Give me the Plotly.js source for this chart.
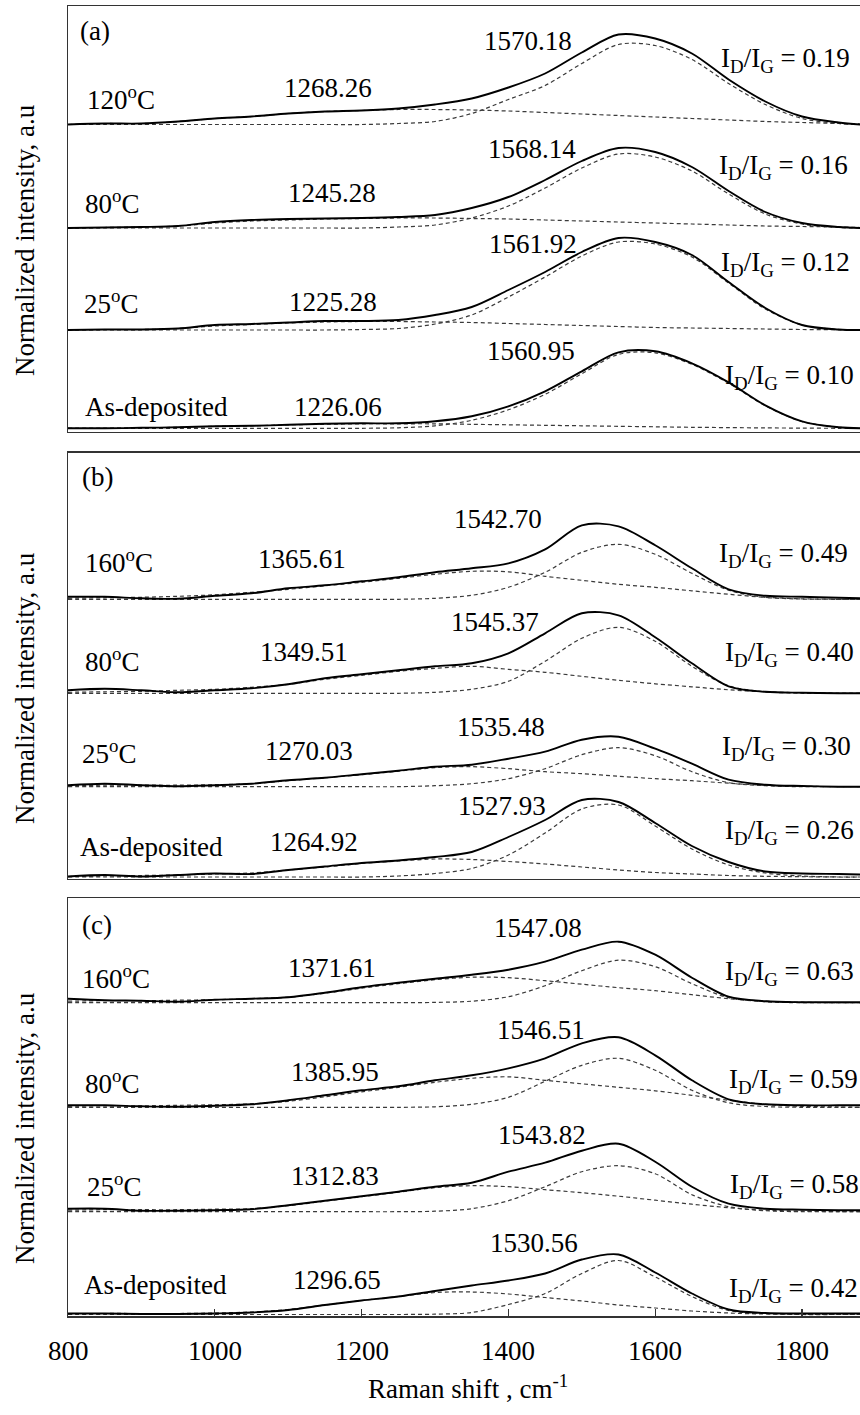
<!DOCTYPE html>
<html><head><meta charset="utf-8">
<script src="https://cdn.plot.ly/plotly-3.0.1.min.js"></script>
<style>
html,body{margin:0;padding:0;background:#fff;}
#chart{width:860px;height:1415px;}
#chart svg text, #chart svg tspan{font-family:"Liberation Serif","Times New Roman",serif !important;}
</style>
</head><body><div id="chart"></div>
<script>
// Raman shift grid (cm-1)
const ramanShift = [800,850,900,950,1000,1050,1100,1150,1200,1250,1300,1350,1400,1450,1500,1550,1600,1650,1700,1750,1800,1850,1880];

// Panel (a): measured spectrum (S), D-band fit, G-band fit
const a120S = [0,1,1,3,6,8,11,13,14,16,20,26,37,51,72,90,86,71,45,23,8,2,0];
const a120D = [0,1,1,3,6,8,11,13,14,15,15,14.5,13.5,12,10.5,9,7.5,6,4.5,3,2,1,0.5];
const a120G = [0,0,0,0,0,0,0,0,0,1,3,11,25,39,61,80,79,65,41,20,6,1,0];
const a80S  = [0,0.5,1,2,6,8,9,9.5,10,11,13,20,31,48,67,80,76,61,37,16,5,1,0];
const a80D  = [0,0.5,1,2,5,7,8,9,9.5,10,10,9.5,9,8,7,6,5,4,3,2,1.5,1,0.5];
const a80G  = [0,0,0,0,0,0,0,0,0,1,3,10,22,40,60,74,71,57,34,14,4,0.5,0];
const a25S  = [0,0.5,0.5,1.5,5,6,7.5,9,9,10,15,23,40,58,78,92,88,75,48,22,5,0.5,0];
const a25D  = [0,0.5,0.5,1.5,4,5.5,7,8,8.5,8.5,8,7.5,6.5,5.5,4.5,3.5,2.5,2,1.5,1,0.5,0.2,0];
const a25G  = [0,0,0,0,0,0,0,0,0.5,1.5,6,15,33,53,74,88,86,73,47,21,5,0.5,0];
const a0S   = [0,0,0.5,1,2,2.5,3.5,4.5,5,5,7,12,22,37,57,76,77,65,46,23,7,1,0];
const a0D   = [0,0,0.5,1,2,2.5,3.5,4,4.5,4.5,4.5,4,3.5,3,2.5,2,1.5,1,0.7,0.4,0.2,0,0];
const a0G   = [0,0,0,0,0,0,0,0,0,0.5,2.5,8,18.5,34,54.5,74,75.5,64,45,22.5,6.8,1,0];

// Panel (b)
const b160S = [2.5,2.5,1,0.5,3.5,6,11,14,18,22,27,31,36,50,74,73,54,31,10,3.5,2.5,1.5,1];
const b160D = [1,1.5,2,3,4.5,7,10,13.5,17,21,25,28,27.5,23,19,15,12,8.5,5,2,0.5,0,0];
const b160G = [0,0,0,0,0,0,0,0,0,0,1,4,12,27,47,55,45,26,9,2,0.3,0,0];
const b80S  = [3,4.5,3,1,3,5,9,15,19,23,27,30,40,60,80,78,56,30,7,1.5,0.5,0,0];
const b80D  = [1,1.5,2,3,4,6,9,14,18,22,25,27,24,21,17,13,9.5,6.5,3.5,1.5,0.5,0,0];
const b80G  = [0,0,0,0,0,0,0,0,0,0,1,4,12,32,55,66,52,27,7.5,1.5,0.3,0,0];
const b25S  = [1.5,3,1.5,0.5,1.5,3,6.5,9,12.5,16,20,22,28,35,47,50,38,23,7,2,0.7,0,0];
const b25D  = [1,1.5,1.5,1.5,2,3,6,9,12,15.5,19,20,18,15,13,10.5,8,6,3.5,1.5,0.5,0,0];
const b25G  = [0,0,0,0,0,0,0,0,0,0,1,3,8,18,32,39,31,15,4,1,0,0,0];
const b0S   = [0.5,2,0.5,2,3.5,3,7,10.5,14,16.5,20,25,40,57,77,75,54,31,15,5.5,3.5,3,2.5];
const b0D   = [0.5,1,1.5,2,3,4,7,10,13.5,16,18,17.5,15.5,13,10,7,4.5,3,1.5,0.7,0.3,0,0];
const b0G   = [0,0,0,0,0,0,0,0,0,1,3.5,8.5,22,44,68,72,51,28,12,4,1,0,0];

// Panel (c)
const c160S = [4,2.5,2,1,3,4,5.5,10,15.5,20,24,28,33,41,53,61,48,25,6,1.5,0.5,0.5,0.5];
const c160D = [1.5,2,2,2.5,3,4,5.5,9.5,14.5,19,23,25.5,25,22,18.5,15,12,8,4,1.5,0.5,0,0];
const c160G = [0,0,0,0,0,0,0,0,0,0,0.3,1.5,6,17,32,42.5,36,19,5,1,0,0,0];
const c80S  = [2,2,1,0.5,1.5,3,7,12,17,21,27,32,39,49,64,70,52,27,8,3,2,2,2];
const c80D  = [1,1.5,1.5,2,2.5,3.5,6,10.5,15.5,20,25,29,30.5,27,23.5,20,16.5,12,7,3,1,0.3,0];
const c80G  = [0,0,0,0,0,0,0,0,0,0,0.5,3,10,26,42,49,37,17,4.5,0.8,0,0,0];
const c25S  = [3,3,1,1,1.5,2.5,6.5,11,15.5,20,25,29,40,49,61,68,50,25,8,3,2,1.5,1.5];
const c25D  = [1.5,2,2,2,2.5,3,6,10.5,15,19.5,24,26,25,22,19,15.5,11.5,7.5,4,1.5,0.5,0,0];
const c25G  = [0,0,0,0,0,0,0,0,0,0,0.5,3,11,25,40,46,38,17,5,1,0,0,0];
const c0S   = [1,1,0.5,0.5,1,2,4.5,9.5,14,18,23.5,29,34,41,55,60,42,21,5,1.5,1,1,1];
const c0D   = [0.5,1,1,1,1.5,2.5,5,9.5,14,18,22,22.5,20.5,17,13.5,9.5,6.5,3.5,1.5,0.5,0.2,0,0];
const c0G   = [0,0,0,0,0,0,0,0,0,0,0.3,2,10,21,41,54,37.5,18,4,1,0,0,0];

// Stacking offsets of each spectrum (top to bottom)
const offsetsA = [307.5, 204, 102, 3.7];
const offsetsB = [279.7, 185.7, 92.3, 2];
const offsetsC = [313.3, 208.7, 104.3, 1.5];

// Labels
const panelLabels = ['(a)', '(b)', '(c)'];
const sampleLabelsA = ['120<sup>o</sup>C', '80<sup>o</sup>C', '25<sup>o</sup>C', 'As-deposited'];
const sampleLabelsBC = ['160<sup>o</sup>C', '80<sup>o</sup>C', '25<sup>o</sup>C', 'As-deposited'];
const dPeaksA = ['1268.26', '1245.28', '1225.28', '1226.06'];
const gPeaksA = ['1570.18', '1568.14', '1561.92', '1560.95'];
const ratiosA = ['0.19', '0.16', '0.12', '0.10'];
const dPeaksB = ['1365.61', '1349.51', '1270.03', '1264.92'];
const gPeaksB = ['1542.70', '1545.37', '1535.48', '1527.93'];
const ratiosB = ['0.49', '0.40', '0.30', '0.26'];
const dPeaksC = ['1371.61', '1385.95', '1312.83', '1296.65'];
const gPeaksC = ['1547.08', '1546.51', '1543.82', '1530.56'];
const ratiosC = ['0.63', '0.59', '0.58', '0.42'];
const xTicks = [800, 1000, 1200, 1400, 1600, 1800];
const xTickLabels = ['800', '1000', '1200', '1400', '1600', '1800'];
const xTitle = 'Raman shift , cm<sup>-1</sup>';
const yTitle = 'Normalized intensity, a.u';

const FONT = 'Liberation Serif';
const FS = 27;

const panels = [
  {xa:'x3', ya:'y3', sets:[[a120S,a120D,a120G],[a80S,a80D,a80G],[a25S,a25D,a25G],[a0S,a0D,a0G]], off:offsetsA,
   samples:sampleLabelsA, dP:dPeaksA, gP:gPeaksA, r:ratiosA,
   pos:{panel:[813.6,401], sample:[[823.2,334],[820.4,230],[819,130],[820.4,25]],
        d:[[1154.2,344],[1159.7,239],[1161,130],[1167.8,25]],
        g:[[1426.7,391],[1432.2,283],[1433.5,188],[1430.8,81]],
        r:[[1686.9,372],[1684.2,265],[1686.9,168],[1692.4,55]]}},
  {xa:'x2', ya:'y2', sets:[[b160S,b160D,b160G],[b80S,b80D,b80G],[b25S,b25D,b25G],[b0S,b0D,b0G]], off:offsetsB,
   samples:sampleLabelsBC, dP:dPeaksB, gP:gPeaksB, r:ratiosB,
   pos:{panel:[816.3,402], sample:[[820.4,318],[820.4,219],[816.3,127],[813.6,32]],
        d:[[1118.8,320],[1121.5,227],[1128.3,128],[1135.1,37]],
        g:[[1385.8,360],[1381.7,257],[1389.9,152],[1391.3,73]],
        r:[[1684.2,324],[1692.4,225],[1688.3,131],[1692.4,47]]}},
  {xa:'x', ya:'y', sets:[[c160S,c160D,c160G],[c80S,c80D,c80G],[c25S,c25D,c25G],[c0S,c0D,c0G]], off:offsetsC,
   samples:sampleLabelsBC, dP:dPeaksC, gP:gPeaksC, r:ratiosC,
   pos:{panel:[816.3,391], sample:[[816.3,339],[820.4,234],[823.2,131],[819,31]],
        d:[[1159.7,348],[1163.8,244],[1163.8,140],[1166.5,36]],
        g:[[1440.3,388],[1444.4,286],[1445.8,181],[1434.9,73]],
        r:[[1692.4,343],[1697.8,235],[1699.2,130],[1697.8,26]]}}
];

const traces = [];
const annotations = [];
const txtFont = {family: FONT, size: FS, color: '#000'};
panels.forEach((p, pi) => {
  p.sets.forEach((set, si) => {
    const o = p.off[si];
    const shift = arr => arr.map(v => v + o);
    [set[1], set[2]].forEach(comp => {
      traces.push({x: ramanShift, y: shift(comp), xaxis: p.xa, yaxis: p.ya, mode: 'lines', hoverinfo: 'skip',
        line: {color: '#3a3a3a', width: 1.2, dash: '4px,3px', shape: 'spline', smoothing: 0.9}, showlegend: false});
    });
    traces.push({x: ramanShift, y: shift(set[0]), xaxis: p.xa, yaxis: p.ya, mode: 'lines', hoverinfo: 'skip',
      line: {color: '#000', width: 1.9, shape: 'spline', smoothing: 0.9}, showlegend: false});
  });
  const ann = (txt, xy, anchor) => annotations.push({text: txt, x: xy[0], y: xy[1], xref: p.xa, yref: p.ya,
    xanchor: anchor, yanchor: 'middle', showarrow: false, font: txtFont});
  ann(panelLabels[pi], p.pos.panel, 'left');
  p.samples.forEach((s, i) => ann(s, p.pos.sample[i], 'left'));
  p.dP.forEach((s, i) => ann(s, p.pos.d[i], 'center'));
  p.gP.forEach((s, i) => ann(s, p.pos.g[i], 'center'));
  p.r.forEach((s, i) => ann('I<sub>D</sub>/I<sub>G</sub> = ' + s, p.pos.r[i], 'left'));
});

// x tick labels (placed on the bottom axis scale)
xTicks.forEach((v, i) => annotations.push({text: xTickLabels[i], x: v, y: -0.0267, xref: 'x', yref: 'paper',
  xanchor: 'center', yanchor: 'middle', showarrow: false, font: txtFont}));
// y-axis titles (one per panel)
[0.8214, 0.4794, 0.1435].forEach(yv => annotations.push({text: yTitle, textangle: -90,
  x: -0.0543, y: yv, xref: 'paper', yref: 'paper', xanchor: 'center', yanchor: 'middle', showarrow: false,
  font: txtFont}));
// x-axis title
annotations.push({text: xTitle, x: 0.505, y: -0.0542, xref: 'paper', yref: 'paper', xanchor: 'center',
  yanchor: 'middle', showarrow: false, font: txtFont});

const lineCol = '#333';
const baseX = {range: [800, 1879], showgrid: false, zeroline: false, showline: true, mirror: true,
  linecolor: lineCol, linewidth: 1.5, fixedrange: true};
const baseY = {showgrid: false, zeroline: false, showline: true, linecolor: lineCol, linewidth: 1.5,
  showticklabels: false, ticks: '', fixedrange: true};

const layout = {
  width: 860, height: 1415,
  margin: {l: 68, r: 0, t: 6, b: 99},
  paper_bgcolor: '#fff', plot_bgcolor: '#fff',
  font: txtFont,
  xaxis: Object.assign({}, baseX, {anchor: 'y', tickvals: xTicks, ticks: 'inside', ticklen: 7, tickwidth: 1.2,
    tickcolor: lineCol, showticklabels: false}),
  xaxis2: Object.assign({}, baseX, {anchor: 'y2', matches: 'x', showticklabels: false, ticks: ''}),
  xaxis3: Object.assign({}, baseX, {anchor: 'y3', matches: 'x', showticklabels: false, ticks: ''}),
  yaxis: Object.assign({}, baseY, {domain: [0, 0.31908], range: [0, 418], anchor: 'x'}),
  yaxis2: Object.assign({}, baseY, {domain: [0.33359, 0.65878], range: [0, 426], anchor: 'x2'}),
  yaxis3: Object.assign({}, baseY, {domain: [0.67481, 1], range: [0, 426], anchor: 'x3'}),
  annotations: annotations,
  showlegend: false
};

Plotly.newPlot('chart', traces, layout, {staticPlot: true, displayModeBar: false});
</script>
</body></html>
